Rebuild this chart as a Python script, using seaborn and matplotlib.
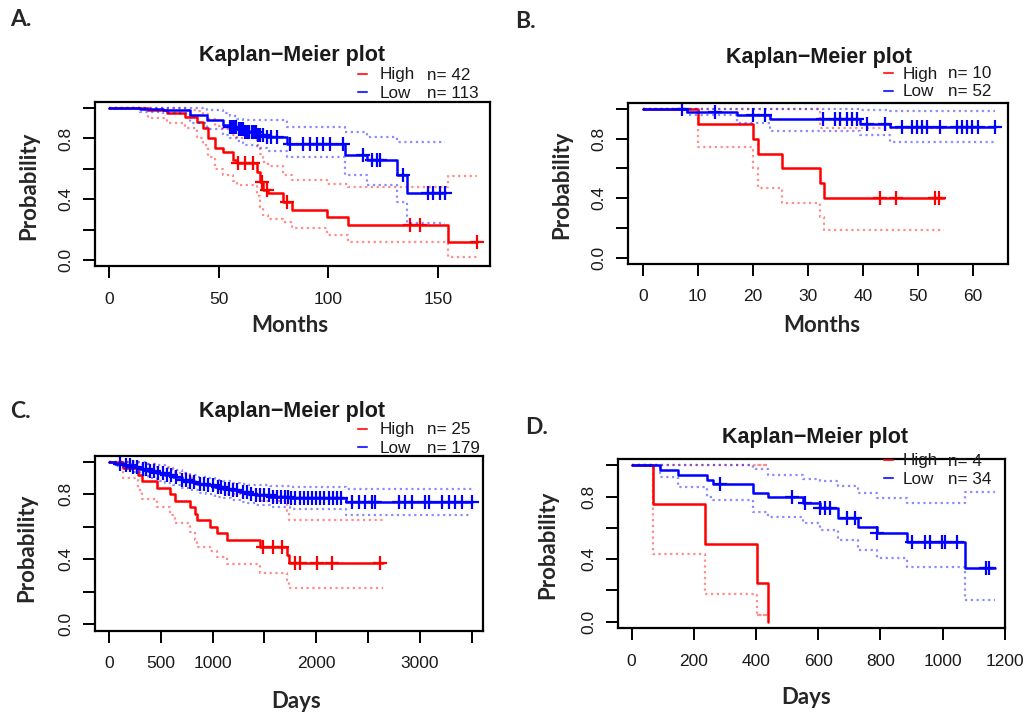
import numpy as np
import pandas as pd
import matplotlib
matplotlib.use("Agg")
import matplotlib.pyplot as plt
import seaborn as sns

# ---------------- data ----------------
# Panel A (Months)
a_high_t = [0, 17.8, 26.2, 34.6, 39.9, 42.9, 45.2, 48.3, 52.1, 56.6, 58.2, 67.3, 68.8, 70.3, 72.6, 79.5, 83.3, 99.2, 109.2, 154.8]
a_high_s = [1.0, 0.987, 0.965, 0.943, 0.91, 0.866, 0.80, 0.735, 0.711, 0.658, 0.636, 0.581, 0.515, 0.46, 0.439, 0.384, 0.33, 0.285, 0.23, 0.121]
a_high_up = [1.0, 1.0, 1.0, 0.99, 0.98, 0.96, 0.93, 0.88, 0.86, 0.82, 0.80, 0.76, 0.70, 0.645, 0.62, 0.56, 0.526, 0.50, 0.482, 0.553]
a_high_lo = [1.0, 0.932, 0.899, 0.866, 0.80, 0.757, 0.68, 0.60, 0.56, 0.52, 0.493, 0.42, 0.35, 0.296, 0.27, 0.252, 0.208, 0.164, 0.121, 0.022]
a_high_end = 167.7
a_high_cens = [58.9, 62.0, 65.8, 69.6, 71.9, 81.0, 137.3, 141.9, 167.7]

a_low_t = [0, 14.0, 24.7, 36.9, 44.5, 52.1, 55.1, 58.2, 61.2, 67.3, 71.9, 81.0, 107.6, 117.5, 131.2, 135.8]
a_low_s = [1.0, 0.995, 0.987, 0.954, 0.921, 0.888, 0.877, 0.86, 0.84, 0.82, 0.811, 0.761, 0.69, 0.658, 0.56, 0.439]
a_low_up = [1.0, 1.0, 1.0, 1.0, 0.99, 0.97, 0.95, 0.93, 0.921, 0.921, 0.921, 0.877, 0.844, 0.811, 0.778, 0.778]
a_low_lo = [1.0, 0.976, 0.965, 0.90, 0.86, 0.82, 0.80, 0.78, 0.757, 0.735, 0.72, 0.68, 0.56, 0.493, 0.384, 0.241]
a_low_end = 153.3
a_low_cens = [55.1, 56.0, 57.0, 58.0, 59.0, 60.0, 61.0, 62.0, 63.0, 64.0, 65.0, 66.0, 67.0, 68.0, 69.0, 70.0, 72.0, 74.0,
              76.5, 82.5, 88.6, 91.6, 94.7, 97.7, 100.7, 106.9, 116.0, 119.8, 122.1, 123.6, 134.3, 145.7, 147.9, 151.0, 153.3]

# Panel B (Months)
b_high_t = [0, 10.1, 20.1, 21.0, 25.3, 32.2, 32.96]
b_high_s = [1.0, 0.9, 0.8, 0.7, 0.6, 0.5, 0.4]
b_high_up = [1.0, 1.0, 1.0, 1.0, 1.0, 0.87, 0.87]
b_high_lo = [1.0, 0.747, 0.60, 0.471, 0.366, 0.276, 0.186]
b_high_end = 54.7
b_high_cens = [43.2, 46.1, 53.1, 53.9]

b_low_t = [0, 8.0, 17.1, 23.1, 39.5, 45.0]
b_low_s = [1.0, 0.981, 0.958, 0.933, 0.902, 0.877]
b_low_up = [1.0, 1.0, 1.0, 1.0, 0.993, 0.987]
b_low_lo = [1.0, 0.96, 0.904, 0.852, 0.825, 0.78]
b_low_end = 64.1
b_low_cens = [7.1, 13.1, 20.1, 22.2, 32.8, 34.9, 35.9, 37.1, 38.0, 38.9, 40.7, 44.1, 47.1, 48.9, 49.8, 50.7,
              51.6, 54.1, 57.1, 58.0, 58.9, 59.8, 61.0, 64.1]

# Panel C (Days)
c_high_t = [0, 138, 283, 315, 460, 589, 637, 782, 830, 846, 975, 1039, 1136, 1457, 1715, 1737]
c_high_s = [1.0, 0.96, 0.92, 0.88, 0.84, 0.80, 0.76, 0.72, 0.68, 0.64, 0.60, 0.56, 0.52, 0.477, 0.426, 0.374]
c_high_up = [1.0, 1.0, 0.995, 0.99, 0.97, 0.95, 0.93, 0.90, 0.88, 0.86, 0.85, 0.83, 0.80, 0.76, 0.70, 0.642]
c_high_lo = [1.0, 0.90, 0.83, 0.77, 0.72, 0.673, 0.621, 0.57, 0.52, 0.477, 0.45, 0.416, 0.37, 0.313, 0.272, 0.22]
c_high_end = 2648
c_high_cens = [1490, 1586, 1667, 1795, 1844, 2005, 2150, 2616]

c_low_t = [0, 60, 140, 220, 300, 380, 460, 540, 620, 700, 780, 860, 940, 1020, 1100, 1180, 1260, 1340, 1420, 1550, 1750, 2290]
c_low_s = [1.0, 0.99, 0.98, 0.97, 0.955, 0.945, 0.935, 0.92, 0.905, 0.89, 0.875, 0.865, 0.855, 0.845, 0.835, 0.825,
           0.815, 0.805, 0.795, 0.785, 0.775, 0.755]
c_low_up = [1.0, 1.0, 1.0, 1.0, 1.0, 0.99, 0.98, 0.965, 0.95, 0.935, 0.92, 0.91, 0.90, 0.89, 0.88, 0.87, 0.865,
            0.86, 0.855, 0.85, 0.845, 0.835]
c_low_lo = [1.0, 0.975, 0.96, 0.94, 0.92, 0.90, 0.885, 0.87, 0.855, 0.84, 0.825, 0.81, 0.80, 0.785, 0.775, 0.765,
            0.755, 0.745, 0.735, 0.725, 0.71, 0.675]
c_low_end = 3503
c_low_cens = [110, 160, 200, 230, 270, 330, 360, 400, 430, 470, 520, 560, 600, 650, 700, 740, 780, 820, 880, 920,
              960, 1000, 1050, 1080, 1120, 1160, 1200, 1240, 1290, 1330, 1370, 1420, 1460, 1500, 1540, 1580, 1620,
              1660, 1700, 1730, 1760, 1800, 1840, 1880, 1920, 1960, 2000, 2040, 2080, 2120, 2160, 2200, 2240,
              2346, 2410, 2475, 2539, 2571, 2796, 2860, 2925, 3053, 3085, 3214, 3279, 3343, 3408, 3503]

# Panel D (Days)
d_high_t = [0, 69.6, 236, 402, 439]
d_high_s = [1.0, 0.75, 0.5, 0.25, 0.0]
d_high_up = [1.0, 1.0, 1.0, 1.0, 1.0]
d_high_lo = [1.0, 0.43, 0.18, 0.045, 0.045]
d_high_end = 439
d_high_ci_end = 402
d_high_cens = []

d_low_t = [0, 91, 150, 241, 262, 391, 439, 552, 605, 664, 729, 788, 884, 1072]
d_low_s = [1.0, 0.968, 0.936, 0.908, 0.879, 0.82, 0.795, 0.76, 0.724, 0.66, 0.607, 0.565, 0.51, 0.342]
d_low_up = [1.0, 1.0, 1.0, 1.0, 1.0, 0.979, 0.936, 0.915, 0.90, 0.87, 0.82, 0.788, 0.756, 0.83]
d_low_lo = [1.0, 0.925, 0.862, 0.80, 0.777, 0.703, 0.67, 0.63, 0.586, 0.522, 0.459, 0.406, 0.352, 0.14]
d_low_end = 1168
d_low_cens = [284, 515, 557, 605, 621, 637, 691, 718, 788, 900, 943, 959, 997, 1008, 1045, 1141, 1150]

group_labels = ["High", "Low"]
n_A = [42, 113]
n_B = [10, 52]
n_C = [25, 179]
n_D = [4, 34]

# ---------------- style ----------------
sns.set_theme(style="white")
plt.rcParams["font.family"] = ["Liberation Sans", "DejaVu Sans"]

W, H = 1026, 715
fig = plt.figure(figsize=(W / 100, H / 100), dpi=100)
RED = "#FF0000"
BLUE = "#0000FF"
TXT = "#1a1a1a"


def px_axes(left, top, right, bottom):
    return fig.add_axes([left / W, 1 - bottom / H, (right - left) / W, (bottom - top) / H])


def step_df(t, s, end):
    tt = list(t) + [end]
    ss = list(s) + [s[-1]]
    return pd.DataFrame({"t": tt, "s": ss})


def draw_group(ax, t, s, up, lo, end, cens, color, ci_end=None):
    ci_end = end if ci_end is None else ci_end
    for band in (up, lo):
        sns.lineplot(data=step_df(t, band, ci_end), x="t", y="s", ax=ax, color=color,
                     drawstyle="steps-post", estimator=None, sort=False,
                     linestyle=(0, (1, 1.6)), lw=1.6, alpha=0.45)
    sns.lineplot(data=step_df(t, s, end), x="t", y="s", ax=ax, color=color,
                 drawstyle="steps-post", estimator=None, sort=False, lw=1.8)
    if len(cens):
        tarr = np.asarray(t)
        sarr = np.asarray(s)
        cy = sarr[np.searchsorted(tarr, cens, side="right") - 1]
        ax.plot(cens, cy, linestyle="none", marker="+", ms=10, mew=1.6, color=color)


def style_axes(ax, xlim, xticks, xticklabels):
    ax.set_xlim(*xlim)
    ax.set_ylim(-0.04, 1.04)
    ax.set_xticks(xticks)
    ax.set_xticklabels(xticklabels, fontsize=12.5, color=TXT)
    ax.set_yticks([0, 0.2, 0.4, 0.6, 0.8, 1.0])
    ax.set_yticklabels(["0.0", "", "0.4", "", "0.8", ""], fontsize=12.5, rotation=90, va="center", color=TXT)
    ax.tick_params(axis="both", direction="out", length=8.5, width=1.4, color="black", left=True, bottom=True)
    ax.tick_params(axis="x", pad=10)
    ax.tick_params(axis="y", pad=7)
    for sp in ax.spines.values():
        sp.set_visible(True)
        sp.set_color("black")
        sp.set_linewidth(1.6)
    ax.set_xlabel("")
    ax.set_ylabel("")
    ax.grid(False)


def header(letter, lx, ly, tcx, ty, dash_x, txt_x, n_x, y1, y2, ns):
    fig.text(lx / W, 1 - ly / H, letter, fontsize=16.5, fontweight="bold", family=["Lato", "DejaVu Sans"],
             ha="left", va="center")
    fig.text(tcx / W, 1 - ty / H, "Kaplan\u2212Meier plot", fontsize=15.5, fontweight="bold",
             ha="center", va="center", color=TXT)
    for yy, col, lab, n in ((y1, RED, group_labels[0], ns[0]), (y2, BLUE, group_labels[1], ns[1])):
        fig.add_artist(plt.Line2D([dash_x / W, (dash_x + 9) / W], [1 - (yy - 1.5) / H, 1 - (yy - 1.5) / H],
                                  color=col, lw=1.5, alpha=0.8))
        fig.text(txt_x / W, 1 - yy / H, lab, fontsize=12.3, ha="left", va="center", color=TXT)
        fig.text(n_x / W, 1 - yy / H, f"n= {n}", fontsize=12.3, ha="left", va="center", color=TXT)


def axis_labels(xl, xlx, xly, ylx, yly):
    fig.text(xlx / W, 1 - xly / H, xl, fontsize=16, fontweight="bold", family=["Lato", "DejaVu Sans"],
             ha="center", va="center")
    fig.text(ylx / W, 1 - yly / H, "Probability", fontsize=16, fontweight="bold",
             family=["Lato", "DejaVu Sans"], ha="center", va="center", rotation=90)


# ---------------- Panel A ----------------
axA = px_axes(95, 102, 490, 266)
draw_group(axA, a_high_t, a_high_s, a_high_up, a_high_lo, a_high_end, a_high_cens, RED)
draw_group(axA, a_low_t, a_low_s, a_low_up, a_low_lo, a_low_end, a_low_cens, BLUE)
style_axes(axA, (-6.53, 173.8), [0, 50, 100, 150], ["0", "50", "100", "150"])
header("A.", 10, 20, 292, 56, 358, 380, 427, 75, 93, n_A)
axis_labels("Months", 290, 325, 29, 186)

# ---------------- Panel B ----------------
axB = px_axes(628, 103, 1008, 263.6)
draw_group(axB, b_high_t, b_high_s, b_high_up, b_high_lo, b_high_end, b_high_cens, RED)
draw_group(axB, b_low_t, b_low_s, b_low_up, b_low_lo, b_low_end, b_low_cens, BLUE)
style_axes(axB, (-2.67, 66.4), [0, 10, 20, 30, 40, 50, 60], ["0", "10", "20", "30", "40", "50", "60"])
header("B.", 515, 22, 819, 57, 884, 903, 948, 74, 92, n_B)
axis_labels("Months", 822, 325, 562, 185)

# ---------------- Panel C ----------------
axC = px_axes(95, 455.5, 483, 630.5)
draw_group(axC, c_high_t, c_high_s, c_high_up, c_high_lo, c_high_end, c_high_cens, RED)
draw_group(axC, c_low_t, c_low_s, c_low_up, c_low_lo, c_low_end, c_low_cens, BLUE)
style_axes(axC, (-135, 3610), [0, 500, 1000, 1500, 2000, 2500, 3000, 3500],
           ["0", "500", "1000", "", "2000", "", "3000", ""])
header("C.", 10, 412, 292, 411, 358, 380, 427, 430, 448, n_C)
axis_labels("Days", 296, 702, 27, 548)

# ---------------- Panel D ----------------
axD = px_axes(618, 459, 1005, 628)
draw_group(axD, d_high_t, d_high_s, d_high_up, d_high_lo, d_high_end, d_high_cens, RED, ci_end=d_high_ci_end)
draw_group(axD, d_low_t, d_low_s, d_low_up, d_low_lo, d_low_end, d_low_cens, BLUE)
style_axes(axD, (-44, 1200.6), [0, 200, 400, 600, 800, 1000, 1200],
           ["0", "200", "400", "600", "800", "1000", "1200"])
header("D.", 525, 428, 815, 438, 884, 903, 948, 461, 479, n_D)
axis_labels("Days", 806, 697, 548, 545)

fig.savefig("out.png", dpi=100, facecolor="white")
